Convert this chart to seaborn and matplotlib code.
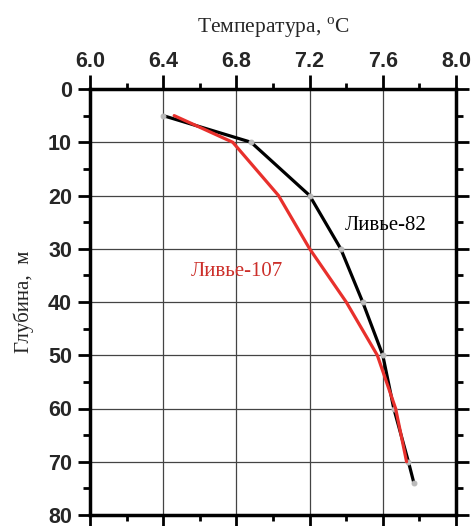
import numpy as np
import pandas as pd
import matplotlib
matplotlib.use('Agg')
import matplotlib.pyplot as plt
import seaborn as sns

## данные: температура по глубине
depth_82 = [5, 10, 20, 30, 40, 50, 60, 70, 74]
temp_82 = [6.40, 6.88, 7.20, 7.37, 7.49, 7.60, 7.66, 7.74, 7.77]

depth_107 = [5, 10, 20, 30, 40, 50, 60, 70]
temp_107 = [6.46, 6.78, 7.03, 7.20, 7.40, 7.57, 7.67, 7.73]

x_ticks = [6.0, 6.4, 6.8, 7.2, 7.6, 8.0]
y_ticks = [0, 10, 20, 30, 40, 50, 60, 70, 80]

sns.set_style('ticks')
plt.rcParams['mathtext.fontset'] = 'custom'
plt.rcParams['mathtext.rm'] = 'Liberation Serif'
plt.rcParams['xtick.top'] = True
plt.rcParams['ytick.right'] = True

df82 = pd.DataFrame({'temp': temp_82, 'depth': depth_82})
df107 = pd.DataFrame({'temp': temp_107, 'depth': depth_107})

fig = plt.figure(figsize=(4.72, 5.26), dpi=100)
ax = fig.add_axes([90 / 472, 1 - 515 / 526, 366 / 472, 426 / 526])

sns.lineplot(data=df82, x='temp', y='depth', sort=False, color='black', lw=2.3,
             marker='o', markersize=3.5, markerfacecolor='#bbbbbb', markeredgecolor='#bbbbbb',
             ax=ax, zorder=3)
sns.lineplot(data=df107, x='temp', y='depth', sort=False, color='#e8302c', lw=2.3,
             ax=ax, zorder=4)

ax.set_xlim(6.0, 8.0)
ax.set_ylim(80, 0)
ax.set_xlabel('')

# ось X: подписи сверху, риски сверху и снизу
ax.set_xticks(x_ticks)
ax.set_xticks(np.arange(6.2, 8.0, 0.4), minor=True)
ax.set_xticklabels([f'{v:.1f}' for v in x_ticks])
ax.tick_params(axis='x', which='both', bottom=True, top=True, labelbottom=False,
               labeltop=True, direction='out', width=2, color='black')
ax.tick_params(axis='x', which='major', length=10, pad=2)
ax.tick_params(axis='x', which='minor', length=4)
ax.grid(axis='x', which='major', color='#444444', lw=0.9)

# ось Y: подписи слева, риски слева и справа
ax.set_yticks(y_ticks)
ax.set_yticks(np.arange(5, 80, 10), minor=True)
ax.tick_params(axis='y', which='both', left=True, right=True, labelright=False,
               direction='out', width=2, color='black')
ax.tick_params(axis='y', which='major', length=9, pad=4)
ax.tick_params(axis='y', which='minor', length=5)
ax.grid(axis='y', which='major', color='#444444', lw=0.9)
ax.set_axisbelow(True)

# верхние основные риски — явно
for t in ax.xaxis.get_major_ticks():
    t.tick2line.set_visible(True)
    t.tick2line.set_color('black')
    t.tick2line.set_markersize(10)
    t.tick2line.set_markeredgewidth(2)

for lab in ax.get_xticklabels() + ax.get_yticklabels():
    lab.set_fontfamily('Liberation Sans')
    lab.set_fontweight('bold')
    lab.set_fontsize(15.5)

for s in ax.spines.values():
    s.set_linewidth(2.5)
    s.set_color('black')

ax.xaxis.set_label_position('top')
ax.set_xlabel('Температура, $^{\\mathrm{o}}$C', family='Liberation Serif', fontsize=15.5,
              labelpad=13)
ax.set_ylabel('Глубина,  м', family='Liberation Serif', fontsize=15, labelpad=10)

ax.text(7.39, 25.7, 'Ливье-82', family='Liberation Serif', fontsize=15, color='black',
        ha='left', va='center')
ax.text(6.55, 34.3, 'Ливье-107', family='Liberation Serif', fontsize=15, color='#cc2f2a',
        ha='left', va='center')

fig.savefig('out.png', dpi=100)
